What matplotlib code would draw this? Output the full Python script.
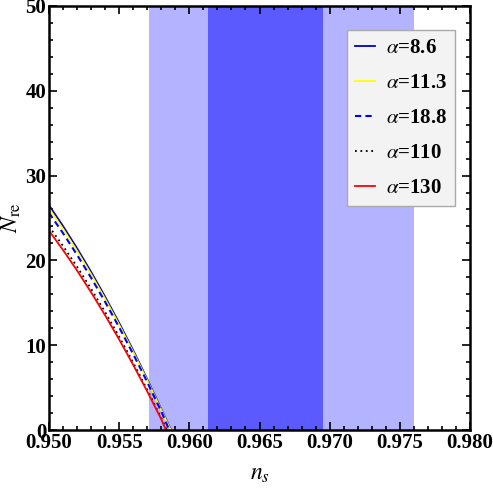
import numpy as np
import matplotlib
matplotlib.use('Agg')
import matplotlib.pyplot as plt
from matplotlib.ticker import MultipleLocator

plt.rcParams['font.family'] = 'Liberation Serif'
plt.rcParams['mathtext.fontset'] = 'stix'

# curves N_re(n_s)
ns_blue = [0.950, 0.951, 0.952, 0.953, 0.954, 0.955, 0.956, 0.957, 0.958, 0.9587]
N_blue = [26.5, 24.04, 21.42, 18.64, 15.71, 12.63, 9.40, 6.00, 2.46, 0.0]

ns_yellow = [0.950, 0.951, 0.952, 0.953, 0.954, 0.955, 0.956, 0.957, 0.958, 0.95867]
N_yellow = [26.1, 23.7, 21.1, 18.35, 15.45, 12.4, 9.2, 5.85, 2.35, 0.0]

ns_dash = [0.950, 0.951, 0.952, 0.953, 0.954, 0.955, 0.956, 0.957, 0.958, 0.95857]
N_dash = [25.6, 23.2, 20.65, 17.95, 15.1, 12.1, 8.95, 5.65, 2.2, 0.0]

ns_black = [0.950, 0.951, 0.952, 0.953, 0.954, 0.955, 0.956, 0.957, 0.958, 0.9584]
N_black = [24.0, 21.7, 19.25, 16.65, 13.9, 11.0, 7.95, 4.75, 1.4, 0.0]

ns_red = [0.950, 0.951, 0.952, 0.953, 0.954, 0.955, 0.956, 0.957, 0.958, 0.95833]
N_red = [23.5, 21.22, 18.80, 16.23, 13.52, 10.67, 7.68, 4.55, 1.27, 0.0]

# Planck bands for n_s
band_2sigma = (0.9571, 0.9760)
band_1sigma = (0.9613, 0.9695)

fig = plt.figure(figsize=(4.93, 4.92), dpi=100)
ax = fig.add_axes([0.0994, 0.126, 0.854, 0.862])

ax.axvspan(*band_2sigma, color='#b3b3ff', lw=0, zorder=0)
ax.axvspan(*band_1sigma, color='#5a5aff', lw=0, zorder=0)

ax.plot(ns_blue, N_blue, color='#0000cc', lw=1.3, label=r'$\alpha$=8.6')
ax.plot(ns_yellow, N_yellow, color='#ffff00', lw=1.3, label=r'$\alpha$=11.3')
ax.plot(ns_dash, N_dash, color='#0000ff', lw=1.5, ls=(0, (3, 2)), label=r'$\alpha$=18.8')
ax.plot(ns_black, N_black, color='black', lw=1.3, ls=(0, (1, 2)), label=r'$\alpha$=110')
ax.plot(ns_red, N_red, color='#ff0000', lw=1.3, label=r'$\alpha$=130')

ax.set_xlim(0.950, 0.980)
ax.set_ylim(0, 50)
ax.xaxis.set_major_locator(MultipleLocator(0.005))
ax.xaxis.set_minor_locator(MultipleLocator(0.001))
ax.yaxis.set_major_locator(MultipleLocator(10))
ax.yaxis.set_minor_locator(MultipleLocator(2))
ax.xaxis.set_major_formatter(plt.FormatStrFormatter('%.3f'))
ax.tick_params(which='both', direction='in', top=True, right=True, width=1.2)
ax.tick_params(which='major', length=6, labelsize=15)
ax.tick_params(axis='x', which='major', pad=2)
ax.tick_params(axis='y', which='major', pad=2)
ax.tick_params(which='minor', length=3)
for lab in ax.get_xticklabels() + ax.get_yticklabels():
    lab.set_fontweight('bold')
for s in ax.spines.values():
    s.set_linewidth(1.8)

ax.set_xlabel(r'$n_s$', fontsize=17, labelpad=8)
ax.set_ylabel(r'$N_{\rm re}$', fontsize=17, labelpad=2)

leg = ax.legend(loc='upper right', bbox_to_anchor=(0.965, 0.943), fontsize=15,
                fancybox=False, framealpha=1, handlelength=0.95, labelspacing=0.72,
                handletextpad=0.55, borderpad=0.38, borderaxespad=0)
leg.get_frame().set_facecolor('#f3f3f3')
leg.get_frame().set_edgecolor('#aaaaaa')
for t in leg.get_texts():
    t.set_fontweight('bold')

fig.savefig('out.png', dpi=100)
